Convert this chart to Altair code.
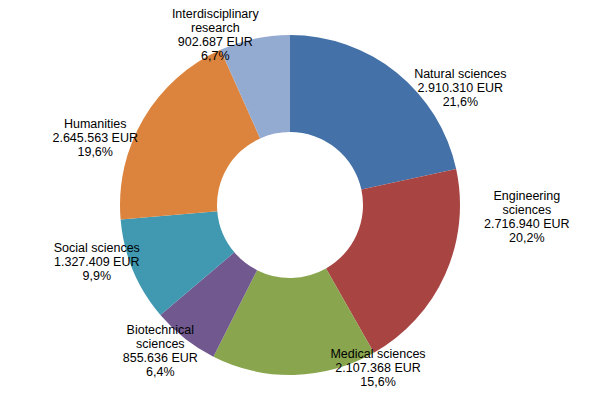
import altair as alt
import pandas as pd

categories = ["Natural  sciences", "Engineering\nsciences", "Medical sciences",
              "Biotechnical\nsciences", "Social sciences", "Humanities",
              "Interdisciplinary\nresearch"]
amounts = [2910310, 2716940, 2107368, 855636, 1327409, 2645563, 902687]
amount_labels = ["2.910.310 EUR", "2.716.940 EUR", "2.107.368 EUR", "855.636 EUR",
                 "1.327.409 EUR", "2.645.563 EUR", "902.687 EUR"]
percent_labels = ["21,6%", "20,2%", "15,6%", "6,4%", "9,9%", "19,6%", "6,7%"]
colors = ["#4471A7", "#A84543", "#89A64E", "#715990", "#4099B1", "#DC843D", "#94ABD1"]

# label layout (best-fit placement like the original): angular nudge (deg) and distance (px)
label_shift_deg = [13.5, -26.3, -29.2, 7.9, 10.0, -7.9, -9.3]
label_radius = [215, 237, 173, 180, 198, 211, 205]

df = pd.DataFrame({
    "category": categories,
    "amount": amounts,
    "order": list(range(len(categories))),
    "label": [f"{c}\n{a}\n{p}" for c, a, p in zip(categories, amount_labels, percent_labels)],
    "shift": label_shift_deg,
    "lr": label_radius,
})

CX, CY = 282, 197

arcs = alt.Chart(df).mark_arc(outerRadius=170, innerRadius=73).encode(
    theta=alt.Theta("amount:Q", stack=True),
    order=alt.Order("order:Q", sort="ascending"),
    color=alt.Color("category:N", scale=alt.Scale(domain=categories, range=colors), legend=None),
    x=alt.value(CX),
    y=alt.value(CY),
)

labels = alt.Chart(df).transform_joinaggregate(
    total="sum(amount)"
).transform_window(
    cum="sum(amount)", sort=[alt.SortField("order", order="ascending")]
).transform_calculate(
    ltheta="((datum.cum - datum.amount / 2) / datum.total) * 2 * PI + datum.shift * PI / 180"
).mark_text(font="Liberation Sans", fontSize=12.5, lineBreak="\n", lineHeight=14,
            color="#000000", align="center", baseline="middle").encode(
    theta=alt.Theta("ltheta:Q", scale=None, stack=False),
    radius=alt.Radius("lr:Q", scale=None),
    text="label:N",
    x=alt.value(CX),
    y=alt.value(CY),
)

chart = alt.layer(arcs, labels).properties(
    width=577, height=381, padding=0, autosize="none"
).configure_view(stroke=None)

chart.save("out.html", embed_options={"renderer": "svg", "actions": False})
